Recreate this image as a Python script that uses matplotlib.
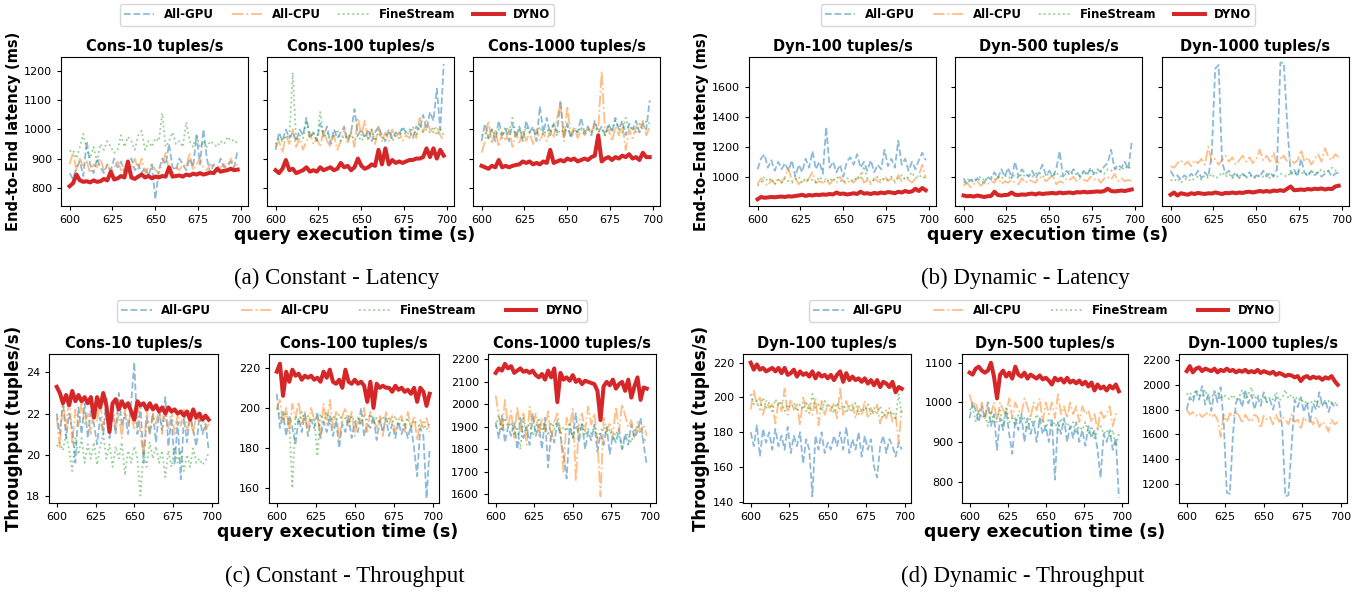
"""Latency / throughput comparison of All-GPU, All-CPU, FineStream and DYNO."""

import matplotlib

matplotlib.use("Agg")

import matplotlib.pyplot as plt
import numpy as np
from matplotlib.lines import Line2D

W, H = 1369, 593

# sample times (s)
times = np.arange(600, 700, 2)

# ---------------- (a) constant rate, latency (ms) ----------------
lat_cons10_gpu = [850, 830, 870, 890, 840, 960, 880, 850, 900, 870, 850, 880, 860, 900, 870, 890, 850, 880, 900, 860,
                  880, 850, 870, 840, 880, 760, 860, 900, 880, 950, 870, 860, 900, 880, 860, 900, 870, 980, 880, 1000,
                  900, 850, 880, 860, 900, 870, 880, 890, 870, 930]
lat_cons10_cpu = [880, 920, 860, 900, 870, 890, 850, 880, 870, 900, 860, 880, 850, 870, 890, 860, 880, 850, 870, 900,
                  860, 900, 850, 870, 880, 860, 850, 880, 920, 860, 850, 870, 860, 880, 870, 920, 860, 880, 900, 870,
                  860, 880, 870, 860, 870, 880, 860, 900, 870, 880]
lat_cons10_fs = [925, 930, 900, 940, 985, 930, 900, 940, 890, 950, 930, 960, 940, 920, 930, 980, 940, 975, 960, 930,
                 980, 995, 930, 960, 940, 970, 960, 1055, 940, 960, 990, 950, 960, 940, 1025, 960, 940, 980, 940, 960,
                 940, 960, 950, 940, 960, 950, 975, 960, 965, 950]
lat_cons10_dyno = [805, 815, 845, 825, 820, 822, 818, 825, 820, 822, 830, 825, 855, 828, 832, 840, 835, 890, 835, 830,
                   838, 845, 835, 840, 832, 838, 835, 840, 838, 870, 838, 840, 842, 838, 845, 842, 848, 845, 850, 845,
                   848, 852, 850, 865, 855, 858, 860, 865, 860, 862]

lat_cons100_gpu = [930, 990, 960, 1000, 970, 990, 960, 1000, 980, 1040, 970, 990, 960, 1020, 980, 1010, 950, 1000, 970,
                   990, 1010, 960, 990, 1070, 980, 1000, 970, 1000, 960, 990, 1010, 980, 960, 1000, 970, 990, 980,
                   1010, 990, 1000, 970, 1010, 1000, 1050, 1000, 1060, 1030, 1140, 1000, 1225]
lat_cons100_cpu = [940, 960, 920, 980, 950, 1000, 940, 970, 930, 960, 990, 950, 970, 940, 1000, 960, 940, 980, 930, 960,
                   1000, 950, 990, 940, 1040, 980, 1030, 960, 1000, 950, 1010, 960, 990, 960, 1000, 970, 990, 960, 980,
                   970, 1000, 970, 1040, 990, 1030, 1000, 990, 1010, 980, 960]
lat_cons100_fs = [950, 970, 960, 980, 970, 1195, 960, 980, 970, 1030, 970, 990, 960, 1060, 970, 990, 960, 980, 1000,
                  960, 980, 970, 990, 960, 980, 960, 980, 970, 1000, 960, 990, 970, 980, 990, 960, 980, 970, 1000, 980,
                  990, 1010, 980, 1020, 990, 1000, 990, 1010, 980, 1000, 980]
lat_cons100_dyno = [860, 850, 865, 895, 860, 865, 850, 855, 860, 870, 855, 860, 855, 870, 860, 865, 870, 860, 865, 885,
                    870, 875, 860, 870, 900, 875, 865, 870, 880, 875, 930, 880, 935, 880, 895, 885, 890, 885, 890, 895,
                    895, 900, 900, 905, 935, 905, 935, 900, 930, 910]

lat_cons1000_gpu = [960, 1020, 970, 1000, 960, 1030, 980, 1000, 960, 1020, 970, 1010, 960, 1030, 990, 1010, 960, 1080,
                    990, 1040, 980, 1020, 990, 1100, 970, 1020, 970, 1000, 990, 1040, 990, 1010, 980, 1030, 990, 1010,
                    980, 1020, 990, 1040, 1000, 1030, 980, 1020, 1000, 1030, 990, 1020, 1000, 1100]
lat_cons1000_cpu = [920, 960, 1030, 950, 1000, 940, 990, 960, 1000, 940, 990, 950, 1000, 960, 990, 950, 1000, 960, 990,
                    960, 1000, 970, 1040, 1090, 960, 1080, 980, 1010, 970, 1000, 980, 1010, 990, 1020, 1000, 1200, 990,
                    1000, 960, 1010, 980, 1020, 930, 1000, 970, 1010, 990, 1030, 980, 1010]
lat_cons1000_fs = [980, 990, 970, 1000, 980, 1000, 970, 1010, 990, 1040, 980, 1000, 970, 1010, 990, 1000, 980, 1010,
                   980, 1000, 990, 1020, 980, 1000, 990, 1010, 980, 1000, 990, 1010, 980, 1000, 990, 1010, 990, 1000,
                   980, 1010, 1000, 1030, 1000, 990, 1040, 1000, 1010, 990, 1020, 1000, 1030, 1020]
lat_cons1000_dyno = [875, 870, 865, 875, 870, 895, 870, 875, 870, 875, 878, 880, 890, 885, 890, 880, 885, 880, 890, 885,
                     930, 885, 890, 895, 890, 900, 895, 900, 890, 895, 900, 895, 905, 910, 980, 890, 900, 905, 895, 905,
                     900, 910, 905, 915, 900, 905, 895, 920, 905, 905]

# ---------------- (b) dynamic rate, latency (ms) ----------------
lat_dyn100_gpu = [1050, 1120, 1150, 1060, 1110, 1040, 1100, 1050, 1090, 1040, 1110, 1000, 1080, 1030, 1120, 1060, 1170,
                  1050, 1100, 1020, 1330, 1060, 1100, 1030, 1080, 1000, 1100, 1130, 1080, 1150, 1060, 1100, 1040, 1110,
                  1030, 1080, 1050, 1180, 1070, 1120, 1060, 1240, 1080, 1120, 1040, 1100, 1050, 1110, 1160, 1110]
lat_dyn100_cpu = [950, 990, 960, 940, 980, 950, 990, 960, 1000, 1060, 970, 990, 950, 980, 960, 990, 1030, 960, 970, 960,
                  990, 950, 980, 960, 1000, 970, 950, 980, 960, 990, 1020, 960, 980, 950, 990, 970, 960, 1000, 970, 990,
                  960, 1010, 970, 1000, 980, 960, 990, 1010, 1080, 990]
lat_dyn100_fs = [940, 960, 1000, 970, 990, 950, 980, 960, 990, 970, 960, 980, 1000, 960, 990, 970, 980, 960, 1000, 980,
                 960, 990, 970, 1000, 980, 960, 990, 980, 970, 1000, 980, 1070, 990, 960, 980, 1000, 970, 990, 980,
                 1000, 970, 990, 1010, 980, 1000, 1030, 990, 1000, 1010, 980]
lat_dyn100_dyno = [850, 865, 860, 862, 865, 863, 866, 868, 865, 870, 868, 872, 875, 880, 872, 878, 875, 880, 878, 882,
                   880, 885, 882, 895, 885, 888, 882, 885, 890, 885, 900, 888, 890, 885, 892, 888, 895, 890, 898, 895,
                   890, 900, 895, 905, 898, 902, 920, 905, 925, 910]

lat_dyn500_gpu = [990, 950, 980, 960, 990, 970, 960, 1000, 980, 1030, 990, 1050, 1000, 1060, 990, 1100, 1000, 1050, 1020,
                  1000, 1040, 990, 1030, 1080, 1010, 1040, 1000, 1050, 1170, 1000, 1040, 1010, 1050, 1030, 1000, 1040,
                  1010, 1060, 1020, 1050, 1030, 1070, 1090, 1180, 1050, 1080, 1060, 1100, 1050, 1230]
lat_dyn500_cpu = [940, 960, 930, 950, 970, 940, 960, 950, 970, 960, 1000, 950, 970, 960, 980, 960, 950, 990, 960, 980,
                  970, 960, 1000, 990, 970, 990, 1010, 950, 970, 960, 990, 980, 1000, 970, 990, 980, 970, 1000, 980, 990,
                  960, 990, 1000, 980, 1020, 970, 990, 970, 980, 970]
lat_dyn500_fs = [960, 975, 990, 970, 990, 1000, 975, 990, 1000, 980, 1000, 985, 1010, 990, 1000, 1010, 990, 1020, 1000,
                 1010, 1000, 1020, 1030, 1000, 1010, 1020, 1000, 1030, 1000, 1010, 1020, 1040, 1010, 1020, 1000, 1030,
                 1020, 1040, 1010, 1030, 1040, 1020, 1050, 1040, 1050, 1060, 1040, 1070, 1050, 1080]
lat_dyn500_dyno = [875, 870, 872, 868, 875, 870, 865, 870, 872, 900, 878, 875, 878, 880, 895, 880, 878, 882, 880, 885,
                   888, 882, 890, 885, 888, 890, 892, 888, 895, 890, 893, 895, 890, 898, 895, 900, 896, 898, 900, 902,
                   900, 905, 920, 905, 902, 905, 908, 905, 910, 915]

lat_dyn1000_gpu = [1040, 1000, 1010, 980, 1010, 990, 1020, 1000, 1040, 990, 1030, 1000, 1150, 1720, 1745, 1100, 1020,
                   1040, 1000, 1030, 990, 1020, 1000, 1030, 990, 1010, 1000, 1040, 1000, 1030, 1000, 1050, 1760, 1760,
                   1350, 1020, 1050, 1000, 1120, 1030, 1000, 1040, 1010, 1030, 1000, 1020, 1040, 1000, 1020, 1030]
lat_dyn1000_cpu = [1070, 1060, 1090, 1110, 1080, 1100, 1070, 1110, 1090, 1120, 1080, 1200, 1100, 1120, 1080, 1110, 1140,
                   1100, 1130, 1080, 1110, 1140, 1100, 1130, 1090, 1120, 1180, 1110, 1140, 1100, 1160, 1080, 1120, 1140,
                   1100, 1120, 1090, 1110, 1180, 1100, 1130, 1080, 1120, 1150, 1100, 1190, 1130, 1110, 1150, 1130]
lat_dyn1000_fs = [980, 970, 990, 960, 980, 990, 970, 990, 1000, 980, 1010, 990, 1020, 990, 1000, 1030, 1000, 1020, 990,
                  1010, 1000, 1020, 990, 1010, 1000, 990, 1010, 1000, 1020, 990, 1010, 1000, 1020, 1010, 1000, 1030,
                  1010, 1040, 1020, 1030, 1010, 1040, 1020, 1030, 1050, 1030, 1040, 1060, 1040, 1050]
lat_dyn1000_dyno = [880, 895, 875, 890, 885, 880, 890, 885, 892, 888, 885, 890, 888, 895, 890, 885, 892, 890, 895, 890,
                    895, 892, 898, 900, 895, 900, 905, 900, 905, 900, 908, 905, 910, 905, 920, 935, 910, 912, 915, 912,
                    918, 915, 920, 918, 922, 915, 920, 918, 935, 940]

# ---------------- (c) constant rate, throughput (tuples/s) ----------------
thr_cons10_gpu = [22.0, 21.0, 22.6, 20.8, 22.0, 21.2, 19.6, 22.3, 21.0, 22.5, 20.8, 22.2, 21.5, 20.5, 21.8, 21.0, 22.8,
                  20.8, 22.0, 21.0, 23.0, 21.4, 22.0, 21.0, 22.5, 24.5, 21.0, 22.4, 19.6, 21.8, 21.0, 22.0, 20.6, 22.1,
                  21.2, 22.8, 20.4, 21.8, 19.5, 21.6, 18.8, 21.8, 20.6, 22.0, 21.2, 20.4, 21.9, 21.0, 21.5, 20.2]
thr_cons10_cpu = [21.8, 20.3, 22.8, 21.2, 23.0, 20.5, 22.2, 21.4, 22.6, 21.5, 22.0, 21.0, 22.4, 21.6, 22.6, 21.2, 22.0,
                  21.4, 22.5, 21.2, 22.0, 20.8, 22.3, 21.5, 22.0, 21.2, 22.5, 21.0, 20.0, 22.2, 21.0, 22.0, 21.5, 22.3,
                  21.0, 22.0, 21.3, 22.2, 21.0, 22.0, 21.4, 22.2, 21.2, 21.8, 21.0, 22.0, 21.6, 21.8, 21.2, 21.5]
thr_cons10_fs = [20.4, 20.6, 20.2, 21.0, 20.2, 19.2, 20.8, 20.0, 20.8, 19.6, 20.5, 19.8, 20.6, 19.5, 20.4, 21.0, 19.8,
                 20.5, 19.4, 20.4, 19.8, 20.6, 19.0, 20.2, 19.6, 20.4, 19.8, 18.0, 20.2, 19.4, 20.6, 19.8, 20.4, 19.6,
                 20.2, 18.9, 20.2, 19.4, 20.4, 19.6, 20.2, 19.2, 20.0, 19.4, 20.3, 19.6, 19.8, 19.5, 19.7, 20.1]
thr_cons10_dyno = [23.3, 23.0, 22.5, 22.9, 22.4, 23.1, 22.6, 22.9, 22.6, 22.8, 22.5, 22.8, 21.8, 22.8, 22.3, 23.0, 22.4,
                   21.1, 22.5, 22.7, 22.2, 22.6, 22.3, 22.5, 22.1, 21.7, 22.6, 22.4, 22.5, 22.2, 22.5, 22.2, 22.4, 22.1,
                   22.3, 22.0, 22.3, 22.1, 22.2, 22.0, 22.1, 21.9, 22.1, 21.7, 22.2, 21.8, 22.0, 21.7, 21.9, 21.7]

thr_cons100_gpu = [207, 190, 198, 186, 196, 190, 182, 195, 188, 197, 186, 194, 190, 198, 185, 193, 188, 196, 186, 194,
                   180, 192, 188, 196, 185, 193, 188, 200, 186, 192, 190, 196, 184, 194, 188, 195, 186, 192, 185, 193,
                   187, 192, 185, 191, 180, 166, 190, 186, 155, 180]
thr_cons100_cpu = [200, 204, 192, 200, 188, 202, 195, 203, 192, 198, 188, 200, 194, 196, 186, 202, 192, 204, 190, 198,
                   184, 196, 200, 190, 198, 186, 196, 192, 200, 188, 198, 194, 190, 196, 186, 198, 192, 196, 188, 194,
                   196, 188, 198, 190, 196, 184, 194, 190, 195, 188]
thr_cons100_fs = [200, 196, 194, 198, 193, 160, 196, 192, 198, 194, 196, 193, 195, 176, 197, 193, 198, 192, 196, 194,
                  197, 193, 195, 192, 196, 193, 195, 192, 196, 194, 197, 192, 195, 193, 196, 192, 195, 193, 196, 191,
                  194, 192, 195, 190, 194, 192, 190, 193, 189, 192]
thr_cons100_dyno = [218, 222, 206, 218, 213, 219, 216, 217, 214, 216, 215, 216, 214, 215, 213, 218, 215, 219, 213, 212,
                    214, 210, 219, 213, 212, 214, 212, 213, 211, 203, 213, 200, 212, 210, 211, 210, 210, 208, 211, 209,
                    210, 208, 209, 207, 210, 203, 210, 208, 201, 207]

thr_cons1000_gpu = [1920, 1850, 1950, 1830, 1900, 1860, 1920, 1800, 1940, 1850, 1900, 1820, 1960, 1860, 1910, 1800, 1940,
                    1720, 1880, 1830, 1920, 1860, 1780, 1670, 1900, 1850, 1960, 1830, 1920, 1800, 1880, 1840, 1910,
                    1790, 1870, 1820, 1900, 1780, 1860, 1830, 1890, 1800, 1870, 1820, 1910, 1850, 1880, 1940, 1820,
                    1730]
thr_cons1000_cpu = [2040, 1950, 1880, 2020, 1900, 1970, 1850, 1990, 1880, 1960, 1820, 1990, 1900, 1960, 1860, 1940, 1880,
                    1970, 1840, 1920, 1960, 1880, 1700, 1940, 1900, 1980, 1660, 1920, 1960, 1880, 1990, 1910, 1960,
                    1840, 1590, 1940, 1880, 1920, 1860, 1990, 1880, 2000, 1950, 1900, 1930, 1860, 1920, 1880, 1910,
                    1860]
thr_cons1000_fs = [1900, 1950, 1880, 1940, 1900, 1920, 1860, 1900, 1800, 1940, 1880, 1920, 1860, 1900, 1940, 1880, 1910,
                   1860, 1920, 1890, 1930, 1870, 1900, 1880, 1920, 1850, 1900, 1880, 1910, 1860, 1890, 1870, 1900, 1850,
                   1880, 1900, 1860, 1890, 1840, 1880, 1860, 1800, 1850, 1870, 1830, 1880, 1900, 1870, 1850, 1830]
thr_cons1000_dyno = [2140, 2160, 2150, 2180, 2160, 2170, 2140, 2150, 2160, 2145, 2150, 2140, 2150, 2130, 2120, 2135,
                     2110, 2150, 2120, 2160, 2010, 2140, 2110, 2120, 2105, 2130, 2100, 2110, 2090, 2105, 2100, 2095,
                     2090, 2060, 1930, 2080, 2100, 2085, 2110, 2070, 2090, 2100, 2060, 2110, 2030, 2080, 2120, 2020,
                     2075, 2070]

# ---------------- (d) dynamic rate, throughput (tuples/s) ----------------
thr_dyn100_gpu = [180, 172, 184, 166, 182, 174, 180, 170, 182, 172, 178, 170, 183, 168, 178, 172, 180, 162, 176, 170,
                  143, 178, 170, 180, 168, 174, 170, 178, 172, 180, 170, 183, 168, 176, 170, 180, 166, 178, 170, 176,
                  160, 154, 172, 178, 168, 176, 172, 166, 174, 170]
thr_dyn100_cpu = [193, 204, 196, 200, 190, 198, 194, 196, 185, 198, 192, 205, 190, 199, 193, 196, 184, 200, 192, 196,
                  190, 200, 184, 198, 190, 196, 192, 197, 188, 205, 190, 198, 192, 196, 188, 195, 190, 198, 188, 194,
                  190, 196, 185, 192, 188, 194, 186, 190, 174, 193]
thr_dyn100_fs = [202, 196, 198, 193, 200, 194, 197, 192, 199, 195, 198, 192, 196, 194, 197, 192, 196, 193, 198, 191,
                 202, 194, 196, 192, 198, 194, 196, 191, 197, 193, 196, 191, 195, 192, 197, 190, 194, 192, 196, 190,
                 194, 191, 195, 188, 193, 190, 192, 188, 202, 190]
thr_dyn100_dyno = [220, 216, 219, 216, 217, 215, 216, 217, 215, 217, 214, 217, 213, 214, 216, 212, 215, 213, 214, 212,
                   215, 211, 214, 212, 213, 211, 213, 210, 213, 215, 209, 214, 210, 212, 210, 211, 209, 211, 208, 210,
                   207, 210, 206, 209, 208, 206, 209, 203, 206, 205]

thr_dyn500_gpu = [960, 1000, 980, 950, 990, 960, 1000, 940, 970, 880, 960, 930, 980, 920, 870, 960, 930, 970, 900, 960,
                  920, 950, 900, 960, 920, 940, 900, 960, 805, 950, 920, 960, 900, 940, 910, 950, 900, 930, 890, 940,
                  910, 930, 880, 810, 920, 900, 930, 880, 910, 760]
thr_dyn500_cpu = [1020, 990, 1000, 970, 1000, 960, 990, 970, 1000, 950, 1000, 980, 970, 1010, 960, 1000, 980, 970, 1010,
                  990, 960, 1000, 980, 1010, 950, 1000, 970, 1000, 960, 1020, 970, 990, 960, 1000, 970, 990, 950, 990,
                  970, 980, 950, 970, 930, 980, 960, 970, 990, 940, 970, 970]
thr_dyn500_fs = [980, 990, 950, 980, 960, 970, 940, 980, 950, 960, 980, 940, 990, 950, 960, 940, 970, 950, 960, 930,
                 960, 940, 970, 950, 960, 930, 960, 940, 950, 930, 960, 940, 950, 930, 950, 920, 940, 930, 950, 920,
                 940, 910, 930, 940, 920, 930, 910, 930, 890, 920]
thr_dyn500_dyno = [1075, 1070, 1085, 1090, 1080, 1075, 1080, 1100, 1065, 1010, 1070, 1080, 1065, 1075, 1060, 1090, 1070,
                   1065, 1075, 1060, 1070, 1065, 1060, 1068, 1058, 1062, 1055, 1045, 1062, 1055, 1060, 1050, 1062,
                   1050, 1055, 1048, 1055, 1045, 1052, 1040, 1050, 1030, 1045, 1035, 1040, 1030, 1042, 1035, 1045,
                   1028]

thr_dyn1000_gpu = [1800, 1900, 1860, 1950, 1880, 1990, 1840, 1920, 1790, 1950, 1860, 1980, 1700, 1130, 1120, 1600, 1860,
                   1900, 1820, 1960, 1850, 1920, 1800, 1900, 1830, 1940, 1860, 1880, 1800, 1900, 1850, 1650, 1100,
                   1110, 1500, 1880, 1820, 1900, 1780, 1860, 1700, 1850, 1800, 1940, 1830, 1880, 1780, 1860, 1820,
                   1840]
thr_dyn1000_cpu = [1800, 1760, 1780, 1750, 1770, 1740, 1760, 1780, 1740, 1760, 1720, 1580, 1760, 1700, 1770, 1740, 1780,
                   1750, 1690, 1760, 1720, 1700, 1760, 1740, 1650, 1750, 1720, 1740, 1680, 1760, 1700, 1740, 1720,
                   1680, 1760, 1700, 1720, 1640, 1740, 1700, 1720, 1680, 1740, 1660, 1700, 1680, 1620, 1720, 1680,
                   1700]
thr_dyn1000_fs = [1920, 1940, 1900, 1960, 1920, 1900, 1960, 1880, 1920, 1900, 1940, 1880, 1920, 1900, 1880, 1920, 1880,
                  1900, 1960, 1880, 1930, 1980, 1890, 1920, 1880, 1900, 1860, 1900, 1880, 1940, 1870, 1900, 1960, 1890,
                  1920, 1880, 1900, 1860, 1880, 1840, 1870, 1850, 1880, 1820, 1860, 1850, 1870, 1840, 1860, 1830]
thr_dyn1000_dyno = [2110, 2150, 2100, 2130, 2140, 2110, 2130, 2120, 2110, 2130, 2100, 2120, 2110, 2130, 2110, 2120, 2100,
                    2115, 2105, 2120, 2100, 2110, 2100, 2120, 2095, 2110, 2100, 2090, 2105, 2080, 2095, 2085, 2070,
                    2080, 2075, 2060, 2070, 2030, 2060, 2070, 2050, 2065, 2055, 2060, 2040, 2060, 2050, 2070, 2030,
                    2000]

methods = ["All-GPU", "All-CPU", "FineStream", "DYNO"]
styles = {
    "All-GPU": dict(color="tab:blue", linestyle="--", lw=1.3, alpha=0.5),
    "All-CPU": dict(color="tab:orange", linestyle="-.", lw=1.3, alpha=0.5),
    "FineStream": dict(color="tab:green", linestyle=":", lw=1.3, alpha=0.5),
    "DYNO": dict(color="tab:red", linestyle="-", lw=2.9, alpha=1.0),
}

fig = plt.figure(figsize=(W / 100, H / 100), dpi=100)


def px_axes(left, top, right, bottom, **kw):
    return fig.add_axes([left / W, 1 - bottom / H, (right - left) / W, (bottom - top) / H], **kw)


def draw(ax, title, series, ylim, yticks, show_ylabels=True, title_size=10.5):
    for name, values in zip(methods, series):
        ax.plot(times, values, **styles[name])
    ax.set_title(title, fontsize=title_size, fontweight="bold", pad=4)
    ax.set_xlim(595, 704)
    ax.set_xticks([600, 625, 650, 675, 700])
    ax.set_ylim(*ylim)
    ax.set_yticks(yticks)
    ax.tick_params(labelsize=8, length=3)
    if not show_ylabels:
        ax.tick_params(labelleft=False)


# (a)
lat_ylim = (737, 1249)
lat_ticks = [800, 900, 1000, 1100, 1200]
ax = px_axes(61, 57, 248, 206)
draw(ax, "Cons-10 tuples/s", [lat_cons10_gpu, lat_cons10_cpu, lat_cons10_fs, lat_cons10_dyno], lat_ylim, lat_ticks)
ax.set_ylabel("End-to-End latency (ms)", fontsize=10.5, fontweight="bold", labelpad=2)
ax = px_axes(267, 57, 454, 206)
draw(ax, "Cons-100 tuples/s", [lat_cons100_gpu, lat_cons100_cpu, lat_cons100_fs, lat_cons100_dyno], lat_ylim,
     lat_ticks, False)
ax = px_axes(473, 57, 660, 206)
draw(ax, "Cons-1000 tuples/s", [lat_cons1000_gpu, lat_cons1000_cpu, lat_cons1000_fs, lat_cons1000_dyno], lat_ylim,
     lat_ticks, False)

# (b)
dyn_ylim = (805, 1798)
dyn_ticks = [1000, 1200, 1400, 1600]
ax = px_axes(749, 57, 936, 206)
draw(ax, "Dyn-100 tuples/s", [lat_dyn100_gpu, lat_dyn100_cpu, lat_dyn100_fs, lat_dyn100_dyno], dyn_ylim, dyn_ticks)
ax.set_ylabel("End-to-End latency (ms)", fontsize=10.5, fontweight="bold", labelpad=2)
ax = px_axes(955, 57, 1142, 206)
draw(ax, "Dyn-500 tuples/s", [lat_dyn500_gpu, lat_dyn500_cpu, lat_dyn500_fs, lat_dyn500_dyno], dyn_ylim, dyn_ticks,
     False)
ax = px_axes(1162, 57, 1349, 206)
draw(ax, "Dyn-1000 tuples/s", [lat_dyn1000_gpu, lat_dyn1000_cpu, lat_dyn1000_fs, lat_dyn1000_dyno], dyn_ylim,
     dyn_ticks, False)

# (c)
ax = px_axes(49, 354, 218, 503)
draw(ax, "Cons-10 tuples/s", [thr_cons10_gpu, thr_cons10_cpu, thr_cons10_fs, thr_cons10_dyno], (17.64, 24.9),
     [18, 20, 22, 24])
ax.set_ylabel("Throughput (tuples/s)", fontsize=12, fontweight="bold", labelpad=2)
ax = px_axes(269, 354, 439, 503)
draw(ax, "Cons-100 tuples/s", [thr_cons100_gpu, thr_cons100_cpu, thr_cons100_fs, thr_cons100_dyno], (152.7, 226.8),
     [160, 180, 200, 220])
ax = px_axes(488, 354, 656, 503)
draw(ax, "Cons-1000 tuples/s", [thr_cons1000_gpu, thr_cons1000_cpu, thr_cons1000_fs, thr_cons1000_dyno],
     (1561, 2224), [1600, 1700, 1800, 1900, 2000, 2100, 2200])

# (d)
ax = px_axes(743, 354, 911, 503)
draw(ax, "Dyn-100 tuples/s", [thr_dyn100_gpu, thr_dyn100_cpu, thr_dyn100_fs, thr_dyn100_dyno], (139.3, 225),
     [140, 160, 180, 200, 220])
ax.set_ylabel("Throughput (tuples/s)", fontsize=12, fontweight="bold", labelpad=2)
ax = px_axes(962, 354, 1128, 503)
draw(ax, "Dyn-500 tuples/s", [thr_dyn500_gpu, thr_dyn500_cpu, thr_dyn500_fs, thr_dyn500_dyno], (746, 1122),
     [800, 900, 1000, 1100])
ax = px_axes(1179, 354, 1347, 503)
draw(ax, "Dyn-1000 tuples/s", [thr_dyn1000_gpu, thr_dyn1000_cpu, thr_dyn1000_fs, thr_dyn1000_dyno], (1047, 2248),
     [1200, 1400, 1600, 1800, 2000, 2200])

# shared legends
handles = [Line2D([], [], **styles[m]) for m in methods]
for cx, cy, spacing in [(337, 15, 1.5), (1038, 15, 1.5), (352, 311, 2.5), (1044, 311, 2.5)]:
    fig.legend(handles, methods, loc="center", bbox_to_anchor=(cx / W, 1 - cy / H), ncol=4, frameon=True,
               prop=dict(size=8.5, weight="bold"), columnspacing=spacing, handlelength=2.6,
               borderpad=0.35, fancybox=True)

# x labels
for cx, cy in [(355, 235), (1048, 235), (338, 532), (1045, 532)]:
    fig.text(cx / W, 1 - cy / H, "query execution time (s)", ha="center", va="center", fontsize=12.5,
             fontweight="bold")

# captions
serif = ["Liberation Serif", "DejaVu Serif"]
for cx, cy, text in [(337, 278, "(a) Constant - Latency"), (1025, 278, "(b) Dynamic - Latency"),
                     (345, 576, "(c) Constant - Throughput"), (1023, 576, "(d) Dynamic - Throughput")]:
    fig.text(cx / W, 1 - cy / H, text, ha="center", va="center", fontsize=16.5, family=serif)

fig.savefig("out.png", dpi=100)
plt.close(fig)
